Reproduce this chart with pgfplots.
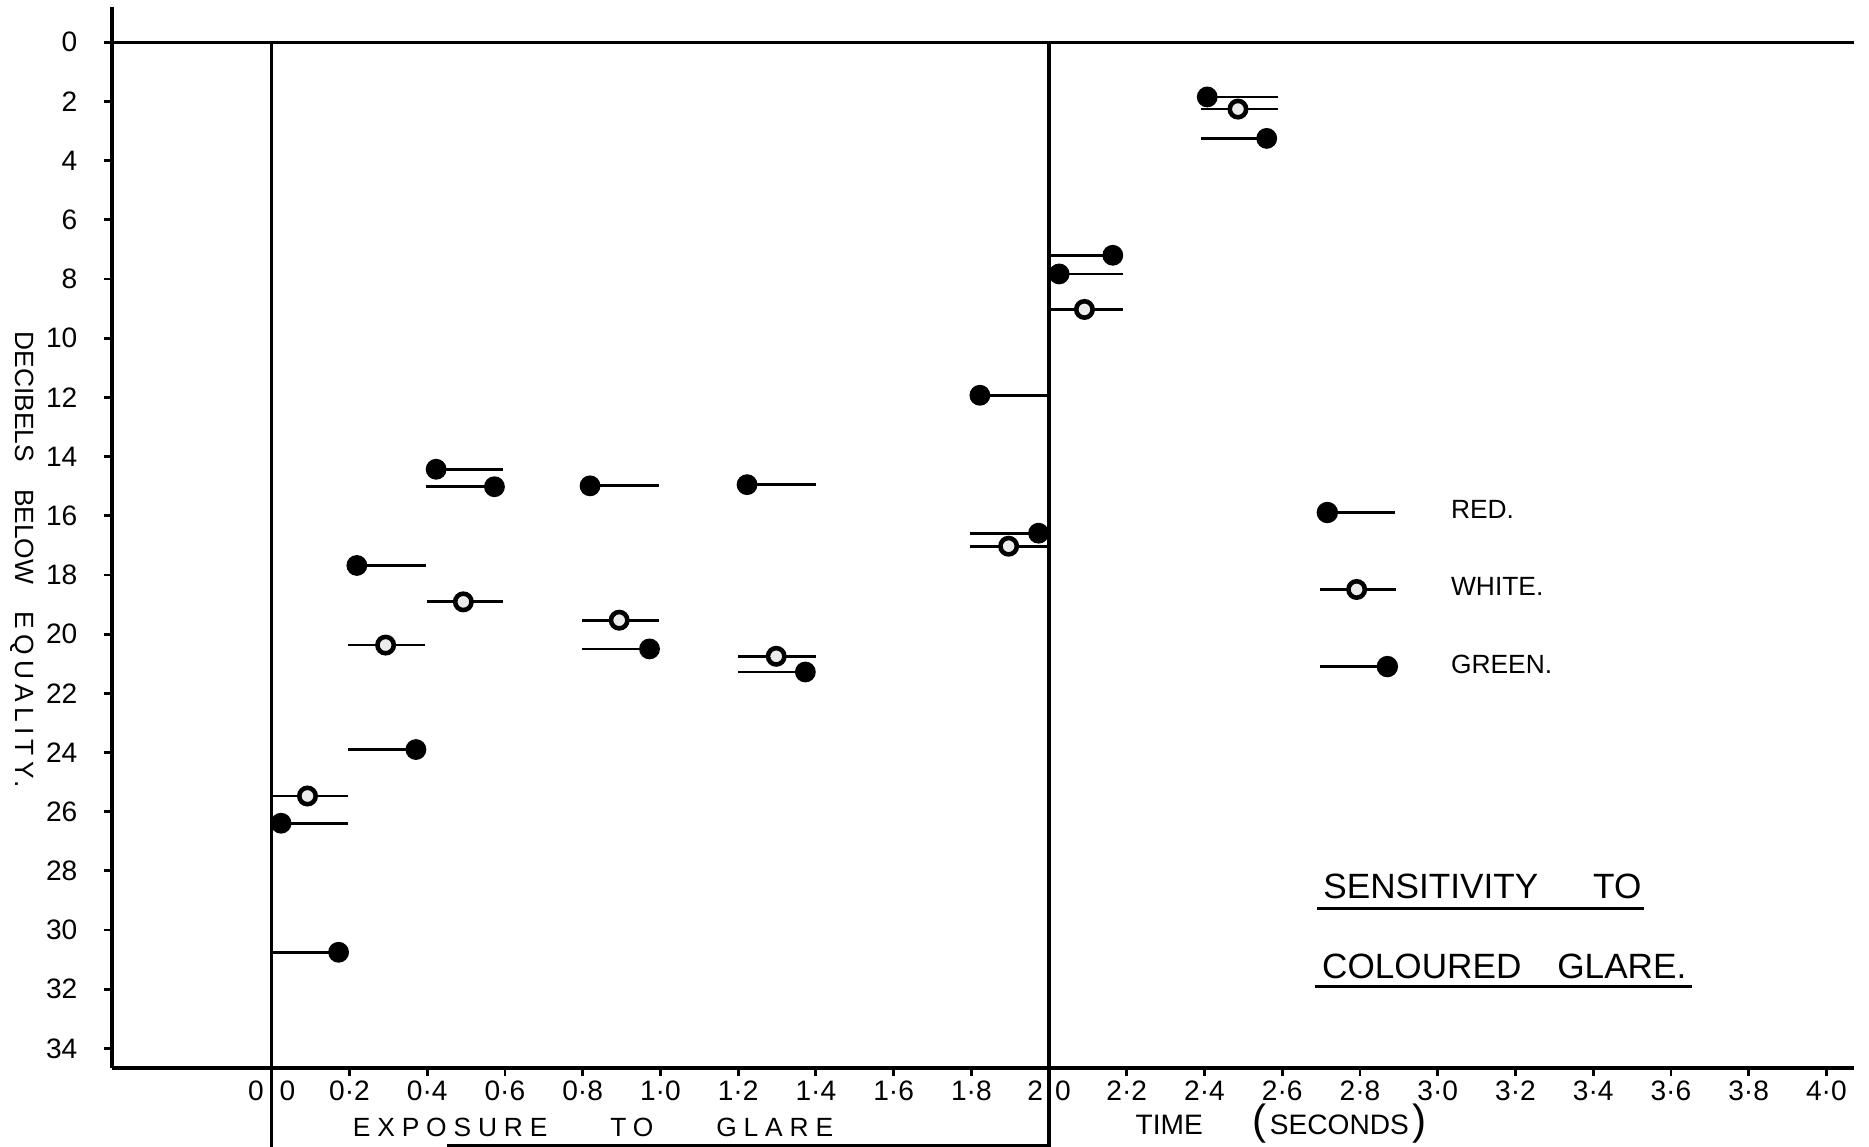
\documentclass[border=0pt]{standalone}
\usepackage{fontspec}
\setmainfont{Liberation Sans}
\usepackage{pgfplots}
\pgfplotsset{compat=1.18}
\newcommand\tk{\fontsize{8}{9}\selectfont}
\begin{document}
\begin{tikzpicture}
\path[use as bounding box] (0,0) rectangle (18.69cm,11.47cm);
\begin{axis}[
  at={(1.12cm,0.79cm)}, anchor=south west,
  scale only axis, width=17.416cm, height=10.61cm,
  xmin=-0.411, xmax=4.07, ymin=-1.19, ymax=34.66,
  y dir=reverse,
  axis x line=bottom, axis y line=left,
  axis line style={-, line width=1pt},
  clip=false,
  tick align=outside, major tick length=0.8mm,
  tick style={line width=0.8pt, black},
  xtick={0,0.2,0.4,0.6,0.8,1.0,1.2,1.4,1.6,1.8,2.0,2.2,2.4,2.6,2.8,3.0,3.2,3.4,3.6,3.8,4.0},
  xticklabels={{0\hspace{1.6mm}0},0·2,0·4,0·6,0·8,1·0,1·2,1·4,1·6,1·8,{2\hspace{1.2mm}0},2·2,2·4,2·6,2·8,3·0,3·2,3·4,3·6,3·8,4·0},
  ytick={0,2,4,6,8,10,12,14,16,18,20,22,24,26,28,30,32,34},
  yticklabels={0,2,4,6,8,10,12,14,16,18,20,22,24,26,28,30,32,34},
  tick label style={font=\tk},
  xticklabel style={inner sep=0pt, yshift=-0.4mm},
  yticklabel style={inner sep=0pt, xshift=-2.6mm},
  legend style={at={(0.6917,0.5412)}, anchor=north west, draw=none, fill=none,
    inner sep=0pt, outer sep=0pt, font=\fontsize{7.5}{9}\selectfont, row sep=3.95mm,
    /tikz/every odd column/.append style={column sep=4.6mm}},
  legend cell align=left,
]
% Red: marker at the left end of the bar
\addplot[only marks, mark=*, mark size=0.97mm, black,
  legend image code/.code={\draw[line width=0.8pt] (0mm,0mm) -- (6.8mm,0mm); \fill[black] (0mm,0mm) circle (1mm);},
  error bars/.cd, x dir=plus, x explicit, error mark=none,
  error bar style={line width=0.8pt}]
coordinates {
(0.024,26.39) += (0.173,0) -= (0,0)
(0.219,17.68) += (0.177,0) -= (0,0)
(0.423,14.43) += (0.173,0) -= (0,0)
(0.819,14.99) += (0.178,0) -= (0,0)
(1.223,14.95) += (0.177,0) -= (0,0)
(1.822,11.93) += (0.178,0) -= (0,0)
(2.026,7.83) += (0.164,0) -= (0,0)
(2.407,1.85) += (0.183,0) -= (0,0)
};
\addlegendentry{RED.}
% White: marker in the middle of the bar
\addplot[only marks, mark=*, mark size=0.82mm, mark options={fill=black!8, draw=black, line width=1.3pt},
  legend image code/.code={\draw[line width=0.8pt] (-0.77mm,0mm) -- (6.9mm,0mm); \filldraw[fill=black!8, draw=black, line width=1.3pt] (2.93mm,0mm) circle (0.82mm);},
  error bars/.cd, x dir=both, x explicit, error mark=none,
  error bar style={line width=0.8pt, black}]
coordinates {
(0.092,25.47) += (0.105,0) -= (0.092,0)
(0.293,20.37) += (0.101,0) -= (0.096,0)
(0.493,18.91) += (0.103,0) -= (0.094,0)
(0.894,19.53) += (0.103,0) -= (0.096,0)
(1.298,20.75) += (0.102,0) -= (0.098,0)
(1.896,17.03) += (0.104,0) -= (0.099,0)
(2.091,9.03) += (0.099,0) -= (0.091,0)
(2.486,2.26) += (0.104,0) -= (0.096,0)
};
\addlegendentry{WHITE.}
% Green: marker at the right end of the bar
\addplot[only marks, mark=*, mark size=0.97mm, black,
  legend image code/.code={\draw[line width=0.8pt] (-0.77mm,0mm) -- (6.0mm,0mm); \fill[black] (6.0mm,0mm) circle (1mm);},
  error bars/.cd, x dir=minus, x explicit, error mark=none,
  error bar style={line width=0.8pt}]
coordinates {
(0.172,30.75) += (0,0) -= (0.172,0)
(0.371,23.90) += (0,0) -= (0.174,0)
(0.573,15.02) += (0,0) -= (0.177,0)
(0.972,20.50) += (0,0) -= (0.174,0)
(1.373,21.28) += (0,0) -= (0.173,0)
(1.973,16.59) += (0,0) -= (0.176,0)
(2.164,7.20) += (0,0) -= (0.164,0)
(2.56,3.25) += (0,0) -= (0.17,0)
};
\addlegendentry{GREEN.}
% frame lines
\draw[line width=0.9pt] (axis cs:-0.411,0) -- (axis cs:4.07,0);
\draw[line width=0.9pt] (axis cs:0,0) -- (axis cs:0,37.6);
\draw[line width=0.9pt] (axis cs:2,0) -- (axis cs:2,37.6);
\draw[line width=0.9pt] (axis cs:0.45,37.27) -- (axis cs:2,37.27);
% axis titles
\node[rotate=-90, font=\fontsize{7.5}{8}\selectfont] at (axis cs:-0.6425,17.49) {DECIBELS\hspace{2.7mm}BELOW\hspace{2.7mm}{\addfontfeature{LetterSpace=20}EQUALITY.}};
\node[font=\fontsize{7.5}{9}\selectfont] at (axis cs:0.8267,36.67) {\addfontfeature{LetterSpace=26}EXPOSURE\hspace{6.3mm}TO\hspace{6.3mm}GLARE};
\node[font=\fontsize{8}{9}\selectfont, anchor=west, inner sep=0pt] at (axis cs:2.221,36.55) {TIME\hspace{5.0mm}{\fontsize{12}{12}\selectfont(}\hspace{0.3mm}SECONDS\hspace{0.4mm}{\fontsize{12}{12}\selectfont)}};
% chart title
\node[font=\fontsize{10}{12}\selectfont, anchor=base west, inner sep=0pt] at (axis cs:2.704,28.93) {SENSITIVITY\hspace{5.5mm}TO};
\draw[line width=0.85pt] (axis cs:2.689,29.28) -- (axis cs:3.531,29.28);
\node[font=\fontsize{10}{12}\selectfont, anchor=base west, inner sep=0pt] at (axis cs:2.701,31.65) {COLOURED\hspace{3.6mm}GLARE.};
\draw[line width=0.85pt] (axis cs:2.684,31.89) -- (axis cs:3.654,31.89);
\end{axis}
\end{tikzpicture}
\end{document}
